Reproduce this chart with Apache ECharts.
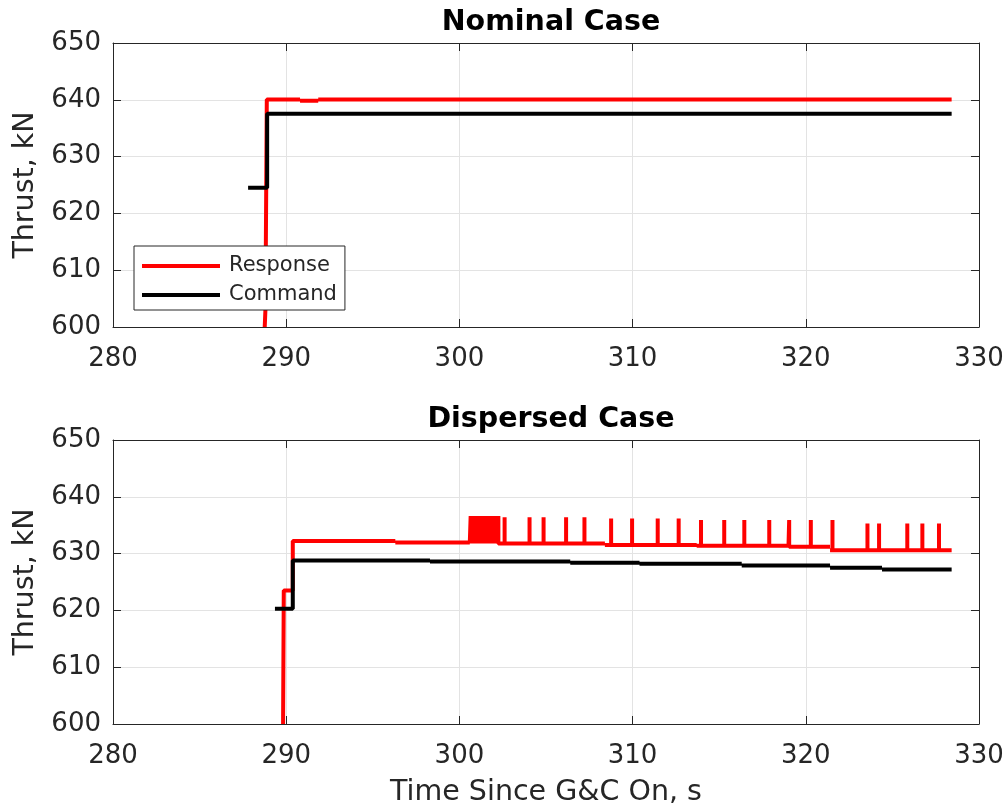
<!DOCTYPE html>
<html>
<head>
<meta charset="utf-8">
<script src="https://cdn.jsdelivr.net/npm/echarts/dist/echarts.min.js"></script>
<style>
  html, body { margin: 0; padding: 0; background: #fff; }
  #chart { width: 1006px; height: 803px; }
</style>
</head>
<body>
<div id="chart"></div>
<script>
// Nominal case (top panel)
const nomRespRiseT = [288.76, 288.8, 288.88];
const nomRespRiseV = [600, 603, 640.05];
const nomRespLevelT = [288.88, 290.8, 291.85];
const nomRespLevelV = [640.05, 639.85, 640.05];
const nomCmdRiseT = [287.8, 288.9, 288.9];
const nomCmdRiseV = [624.5, 624.5, 637.55];
const nomCmdLevelT = [288.9];
const nomCmdLevelV = [637.55];
const endT = 328.42;

// Dispersed case (bottom panel)
const dspRespRiseT = [289.82, 289.86, 290.38, 290.38];
const dspRespRiseV = [600, 623.5, 623.5, 632.2];
// baseline level of the response, each value holds from its start time
const dspRespLevelT = [290.38, 296.3, 300.6, 308.4, 313.7, 319.0, 321.4];
const dspRespLevelV = [632.2, 631.95, 631.8, 631.5, 631.4, 631.2, 630.6];
// spikes in the response (dense chatter near 301 s, then single spikes)
const spikeT = [300.65, 300.75, 300.85, 300.95, 301.05, 301.15, 301.25, 301.35, 301.45,
  301.55, 301.65, 301.75, 301.85, 301.95, 302.05, 302.15, 302.25,
  302.61, 304.05, 304.86, 306.16, 307.22, 308.76, 309.97, 311.45, 312.66,
  313.95, 315.29, 316.45, 317.89, 319.04, 320.29, 321.54, 323.56, 324.23,
  325.86, 326.73, 327.69];
const spikeTop = [636.6, 636.6, 636.6, 636.6, 636.6, 636.6, 636.6, 636.6, 636.6,
  636.6, 636.6, 636.6, 636.6, 636.6, 636.6, 636.6, 636.6,
  636.4, 636.4, 636.4, 636.4, 636.4, 636.2, 636.2, 636.2, 636.2,
  635.9, 635.9, 635.9, 635.9, 635.9, 635.9, 635.9, 635.3, 635.3,
  635.3, 635.3, 635.3];
const dspCmdRiseT = [289.35, 290.38, 290.38];
const dspCmdRiseV = [620.3, 620.3, 628.8];
const dspCmdLevelT = [290.38, 298.3, 306.4, 310.4, 316.3, 321.4, 324.4];
const dspCmdLevelV = [628.8, 628.6, 628.4, 628.2, 627.9, 627.5, 627.2];

const xTicks = [280, 290, 300, 310, 320, 330];
const yTicks = [600, 610, 620, 630, 640, 650];

// rise points, then a stepped level with optional spikes.
// small level changes are drawn as separate pieces (null break) because
// echarts drops segments shorter than ~2px, which turns steps into slopes
function buildSteps(riseT, riseV, levelT, levelV, sT, sTop) {
  const pts = riseT.map((t, i) => [t, riseV[i]]);
  levelT.forEach((t0, i) => {
    const t1 = i + 1 < levelT.length ? levelT[i + 1] : endT;
    const v = levelV[i];
    if (i > 0) pts.push([t0, null]);
    pts.push([t0, v]);
    sT.forEach((s, k) => {
      if (s >= t0 && s < t1) pts.push([s, v], [s, sTop[k]], [s, v]);
    });
    pts.push([t1, v]);
  });
  return pts;
}

const font = 'DejaVu Sans';
const ink = '#262626';
const gridColor = '#e3e3e3';

const chart = echarts.init(document.getElementById('chart'), null, { renderer: 'canvas' });

function xAxes(grid) {
  return [
    {
      type: 'value', gridIndex: grid, min: xTicks[0], max: xTicks[xTicks.length - 1], interval: 10,
      axisLine: { show: true, onZero: false, lineStyle: { color: ink, width: 1 } },
      axisTick: { show: true, inside: true, length: 8, lineStyle: { color: ink } },
      axisLabel: { color: ink, fontFamily: font, fontSize: 26, margin: 19 },
      splitLine: { show: true, lineStyle: { color: gridColor, width: 1 } },
      name: grid === 1 ? 'Time Since G&C On, s' : '',
      nameLocation: 'middle', nameGap: 54,
      nameTextStyle: { color: ink, fontFamily: font, fontSize: 28.5 }
    },
    {
      type: 'value', gridIndex: grid, position: 'top', min: xTicks[0], max: xTicks[xTicks.length - 1], interval: 10,
      axisLine: { show: true, onZero: false, lineStyle: { color: ink, width: 1 } },
      axisTick: { show: true, inside: true, length: 8, lineStyle: { color: ink } },
      axisLabel: { show: false }, splitLine: { show: false }
    }
  ];
}

function yAxes(grid) {
  return [
    {
      type: 'value', gridIndex: grid, min: yTicks[0], max: yTicks[yTicks.length - 1], interval: 10,
      axisLine: { show: true, onZero: false, lineStyle: { color: ink, width: 1 } },
      axisTick: { show: true, inside: true, length: 8, lineStyle: { color: ink } },
      axisLabel: { color: ink, fontFamily: font, fontSize: 26, margin: 12 },
      splitLine: { show: true, lineStyle: { color: gridColor, width: 1 } },
      name: 'Thrust, kN', nameLocation: 'middle', nameGap: 63,
      nameTextStyle: { color: ink, fontFamily: font, fontSize: 28.5 }
    },
    {
      type: 'value', gridIndex: grid, position: 'right', min: yTicks[0], max: yTicks[yTicks.length - 1], interval: 10,
      axisLine: { show: true, onZero: false, lineStyle: { color: ink, width: 1 } },
      axisTick: { show: true, inside: true, length: 8, lineStyle: { color: ink } },
      axisLabel: { show: false }, splitLine: { show: false }
    }
  ];
}

function line(name, data, color, xi, yi) {
  return {
    name: name, type: 'line', data: data, xAxisIndex: xi, yAxisIndex: yi,
    showSymbol: false, symbol: 'none', animation: false, connectNulls: false,
    lineStyle: { color: color, width: 4 }, itemStyle: { color: color }
  };
}

const option = {
  backgroundColor: '#fff',
  animation: false,
  title: [
    { text: 'Nominal Case', left: 546, top: 3, textAlign: 'center',
      textStyle: { fontFamily: font, fontSize: 28.5, fontWeight: 'bold', color: '#000' } },
    { text: 'Dispersed Case', left: 546, top: 400, textAlign: 'center',
      textStyle: { fontFamily: font, fontSize: 28.5, fontWeight: 'bold', color: '#000' } }
  ],
  legend: {
    data: ['Response', 'Command'],
    orient: 'vertical', left: 134, top: 246,
    padding: [9, 8, 4, 8], itemGap: 7,
    itemWidth: 78, itemHeight: 4, icon: 'rect',
    backgroundColor: '#fff', borderColor: ink, borderWidth: 1, borderRadius: 0,
    textStyle: { fontFamily: font, fontSize: 21, color: ink, lineHeight: 22, padding: [0, 0, 0, 4] }
  },
  grid: [
    { left: 113, top: 43, width: 866, height: 284, outerBoundsMode: 'none', containLabel: false },
    { left: 113, top: 440, width: 866, height: 284, outerBoundsMode: 'none', containLabel: false }
  ],
  xAxis: xAxes(0).concat(xAxes(1)),
  yAxis: yAxes(0).concat(yAxes(1)),
  series: [
    line('Response', buildSteps(nomRespRiseT, nomRespRiseV, nomRespLevelT, nomRespLevelV, [], []), '#ff0000', 0, 0),
    line('Command', buildSteps(nomCmdRiseT, nomCmdRiseV, nomCmdLevelT, nomCmdLevelV, [], []), '#000000', 0, 0),
    line('Response', buildSteps(dspRespRiseT, dspRespRiseV, dspRespLevelT, dspRespLevelV, spikeT, spikeTop), '#ff0000', 2, 2),
    line('Command', buildSteps(dspCmdRiseT, dspCmdRiseV, dspCmdLevelT, dspCmdLevelV, [], []), '#000000', 2, 2)
  ]
};

chart.setOption(option);
</script>
</body>
</html>
